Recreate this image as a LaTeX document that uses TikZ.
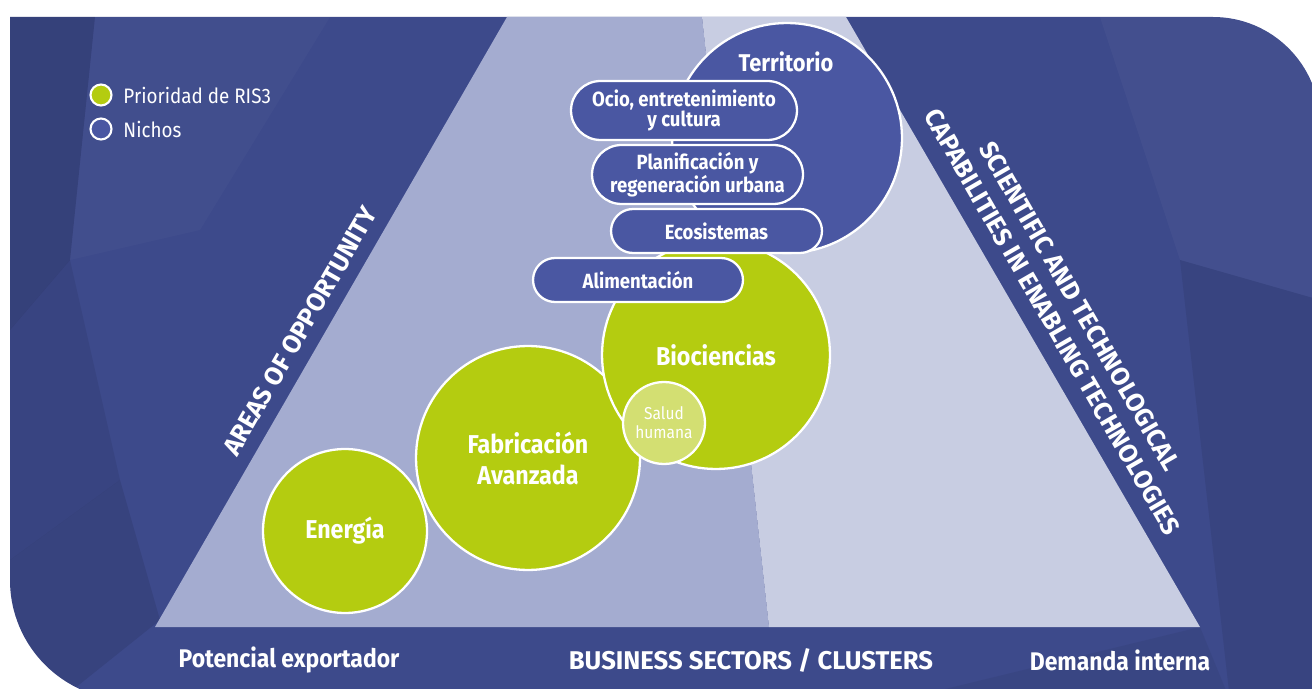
\documentclass[tikz,border=0pt]{standalone}
\usepackage{fontspec}
\setmainfont{Fira Sans}[FakeStretch=0.9]
\newfontfamily\capsfont{Fira Sans}
\usepackage{xcolor}
\usetikzlibrary{positioning}

\definecolor{bgBlue}{HTML}{3D4A8B}
\definecolor{triLeft}{HTML}{A4ACD0}
\definecolor{triRight}{HTML}{C8CDE2}
\definecolor{prioGreen}{HTML}{B4CC10}
\definecolor{saludGreen}{HTML}{D3DF72}
\definecolor{nichoBlue}{HTML}{4A57A2}

\begin{document}
\begin{tikzpicture}[
    x=0.02cm, y=-0.02cm,
    prio/.style={circle, draw=white, line width=1.3pt, fill=prioGreen, text=white, align=center, inner sep=0pt, font=\bfseries\fontsize{14.7}{17.6}\selectfont},
    nicho/.style={rectangle, draw=white, line width=1.3pt, fill=nichoBlue, text=white, align=center, inner sep=0pt, font=\bfseries\fontsize{11.7}{11.4}\selectfont},
    legdot/.style={circle, draw=white, line width=1.2pt, minimum size=0.42cm, inner sep=0pt},
    legtext/.style={text=white, font=\fontsize{11.9}{14}\selectfont, inner sep=0pt},
    axis/.style={text=white, font=\bfseries\fontsize{14.5}{16}\selectfont},
    side/.style={text=white, align=center, font=\capsfont\bfseries\fontsize{14.6}{18}\selectfont}
]
\useasboundingbox (0,0) rectangle (1312,689);

% Background panel
\fill[bgBlue] (10,17) -- (1213,17) .. controls (1272.1,17) and (1320,64.9) .. (1320,124)
    -- (1320,700) -- (130,700) .. controls (63.7,700) and (10,646.3) .. (10,580) -- cycle;
\begin{scope}
\clip (10,17) -- (1213,17) .. controls (1272.1,17) and (1320,64.9) .. (1320,124)
    -- (1320,700) -- (130,700) .. controls (63.7,700) and (10,646.3) .. (10,580) -- cycle;
\fill[black, opacity=0.12] (10,17) -- (95,17) -- (70,260) -- (10,330) -- cycle;
\fill[black, opacity=0.07] (10,330) -- (70,260) -- (120,480) -- (10,560) -- cycle;
\fill[black, opacity=0.09] (10,560) -- (120,480) -- (160,620) -- (60,700) -- (10,700) -- cycle;
\fill[white, opacity=0.025] (95,17) -- (330,17) -- (200,230) -- (70,260) -- cycle;
\fill[white, opacity=0.03] (1100,17) -- (1320,17) -- (1320,300) -- (1180,260) -- cycle;
\fill[black, opacity=0.08] (1180,260) -- (1320,300) -- (1320,700) -- (1230,700) -- cycle;
\fill[black, opacity=0.05] (1200,627) -- (1230,700) -- (900,700) -- cycle;
\end{scope}

% Triangle
\fill[triLeft] (155,627) -- (507,17) -- (702,17) -- (769,627) -- cycle;
\fill[triRight] (769,627) -- (702,17) -- (846,17) -- (1200,627) -- cycle;

% Legend
\node[legdot, fill=prioGreen] (legprio) at (101,95) {};
\node[legdot, fill=nichoBlue] (legnicho) at (101,129) {};
\node[legtext, right=6pt of legprio] (legpriotext) {Prioridad de RIS3};
\node[legtext, right=6pt of legnicho] (legnichotext) {Nichos};

% Territorio
\node[circle, draw=white, line width=1.3pt, fill=nichoBlue, minimum size=4.6cm] (territorio) at (787,138) {};
\node[text=white, font=\bfseries\fontsize{13.8}{16}\selectfont] (territoriotext) at (786,62) {Territorio};

% RIS3 priorities
\node[prio, minimum size=3.28cm] (energia) at (345,531) {Energía};
\node[prio, minimum size=4.48cm] (fabricacion) at (528,458) {Fabricación\\Avanzada};
\node[prio, minimum size=4.56cm] (biociencias) at (716,355) {Biociencias};
\node[prio, fill=saludGreen, minimum size=1.64cm, font=\fontsize{9.8}{10.8}\selectfont] (salud) at (664,423) {Salud\\humana};

% Niches
\node[nicho, minimum width=4.52cm, minimum height=1.18cm, rounded corners=0.59cm] (ocio) at (684,110.5) {Ocio, entretenimiento\\y cultura};
\node[nicho, minimum width=4.22cm, minimum height=1.18cm, rounded corners=0.59cm] (planificacion) at (697.5,174.5) {Planificación y\\regeneración urbana};
\node[nicho, minimum width=4.22cm, minimum height=0.88cm, rounded corners=0.44cm] (ecosistemas) at (716.5,231) {Ecosistemas};
\node[nicho, minimum width=4.20cm, minimum height=0.88cm, rounded corners=0.44cm] (alimentacion) at (638,280) {Alimentación};

% Side labels
\node[side, rotate=60] (areas) at (300,331) {AREAS OF OPPORTUNITY};
\node[side, rotate=-60] (capacidades) at (1066,314) {SCIENTIFIC AND TECHNOLOGICAL\\CAPABILITIES IN ENABLING TECHNOLOGIES};

% Bottom axis
\node[axis] (exportador) at (289,660) {Potencial exportador};
\node[axis, font=\capsfont\bfseries\fontsize{14.6}{16}\selectfont] (sectores) at (751,660) {BUSINESS SECTORS / CLUSTERS};
\node[axis] (demanda) at (1120,660) {Demanda interna};

\end{tikzpicture}
\end{document}
